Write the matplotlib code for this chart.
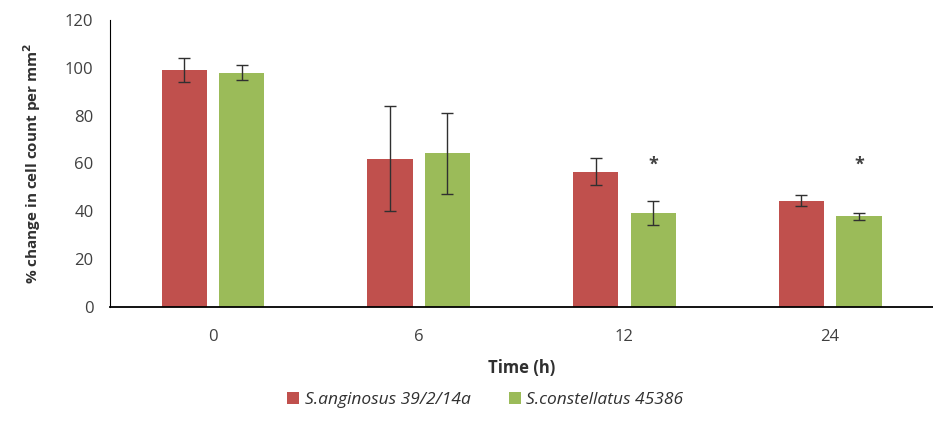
import numpy as np
import matplotlib.pyplot as plt

# Data
times = ['0', '6', '12', '24']
anginosus = [99, 62, 56.5, 44.5]
anginosus_err = [5, 22, 5.7, 2.4]
constellatus = [98, 64.3, 39.3, 37.9]
constellatus_err = [3, 17, 5, 1.4]
significant = [False, False, True, True]  # star above green bar

red = '#C0504D'
green = '#9BBB59'
plt.rcParams['font.family'] = ['Open Sans', 'DejaVu Sans']

fig = plt.figure(figsize=(9.33, 4.33), dpi=100)
ax = fig.add_axes([0.118, 0.291, 0.882, 0.663])

x = np.arange(len(times))
w = 0.22
off = 0.14
ax.bar(x - off, anginosus, w, color=red, label='S.anginosus 39/2/14a')
ax.bar(x + off, constellatus, w, color=green, label='S.constellatus 45386')
ax.errorbar(x - off, anginosus, yerr=anginosus_err, fmt='none',
            ecolor='#303030', elinewidth=1, capsize=4)
ax.errorbar(x + off, constellatus, yerr=constellatus_err, fmt='none',
            ecolor='#303030', elinewidth=1, capsize=4)

for i, s in enumerate(significant):
    if s:
        ax.text(x[i] + off, 59.5, '*', ha='center', va='center',
                fontsize=13, fontweight='bold', color='#404040')

ax.set_xlim(-0.5, 3.5)
ax.set_ylim(0, 120)
ax.set_yticks(range(0, 121, 20))
ax.set_xticks(x)
ax.set_xticklabels(times)
ax.tick_params(axis='both', length=0, labelsize=12, labelcolor='#404040')
ax.tick_params(axis='y', pad=12)
ax.tick_params(axis='x', pad=16)
for side in ['top', 'right']:
    ax.spines[side].set_visible(False)
ax.spines['left'].set_color('#000000')
ax.spines['bottom'].set_color('#000000')
ax.spines['bottom'].set_linewidth(1.3)

ax.set_xlabel('Time (h)', fontsize=12, fontweight='bold', color='#303030', labelpad=10)
ax.set_ylabel('% change in cell count per mm$^\\mathbf{2}$', fontsize=11,
              fontweight='bold', color='#303030', labelpad=16)

leg = fig.legend(loc='center', bbox_to_anchor=(0.52, 0.076), ncol=2, frameon=False,
                 handlelength=0.7, handleheight=0.7, handletextpad=0.3,
                 columnspacing=2.2, prop={'style': 'italic', 'size': 12.5})
for t in leg.get_texts():
    t.set_color('#303030')

fig.savefig('out.png', dpi=100)
